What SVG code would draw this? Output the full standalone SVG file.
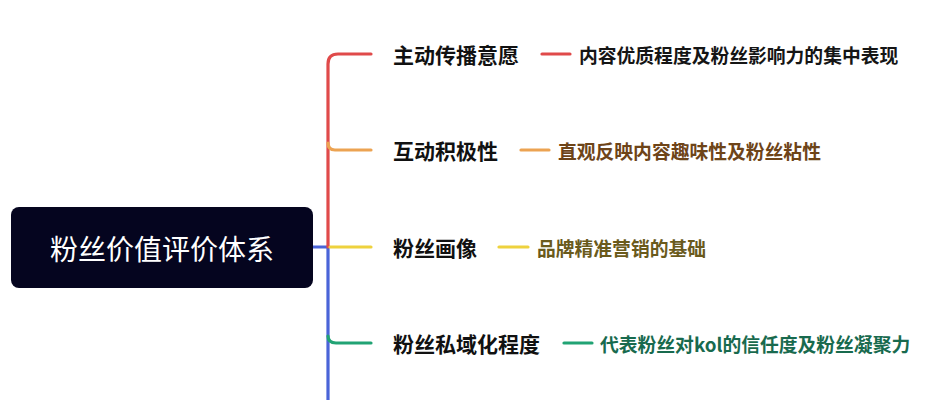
<svg xmlns="http://www.w3.org/2000/svg" width="928" height="400" viewBox="0 0 928 400">
<style>
.t{font-family:"Noto Sans CJK SC","Noto Sans",sans-serif;font-weight:700;font-size:21px;fill:#111111;dominant-baseline:central}
.d{font-family:"Noto Sans CJK SC","Noto Sans",sans-serif;font-weight:700;font-size:18.8px;dominant-baseline:central}
.c{fill:none;stroke-width:3.2;stroke-linecap:round}
</style>
<rect width="928" height="400" fill="#ffffff"/>
<g id="connectors">
<path class="c" stroke="#4a64d8" d="M313,247 L328,247 L328,400"/>
<path class="c" stroke="#e04a4a" d="M328,247 L328,64 Q328,54 338,54 L371,54"/>
<path class="c" stroke="#eca352" d="M328,143 Q328,150 335,150 L371,150"/>
<path class="c" stroke="#eed23e" d="M330,247 L371,247"/>
<path class="c" stroke="#21a374" d="M328,336 Q328,343 336,343 L371,343"/>
<path class="c" stroke="#e04a4a" d="M542,54 L570,54"/>
<path class="c" stroke="#eca352" d="M521,150 L549,150"/>
<path class="c" stroke="#eed23e" d="M499,247 L528,247"/>
<path class="c" stroke="#21a374" d="M564,343 L592,343"/>
</g>
<g id="root">
<rect x="11" y="207" width="302" height="81" rx="8" fill="#05051f"/>
<text x="162" y="248" text-anchor="middle" style="font-family:'Noto Sans CJK SC','Noto Sans',sans-serif;font-size:28px;fill:#ffffff;dominant-baseline:central">粉丝价值评价体系</text>
</g>
<g id="n1">
<text class="t" x="393" y="54">主动传播意愿</text>
<text class="d" x="579" y="54" fill="#151515">内容优质程度及粉丝影响力的集中表现</text>
</g>
<g id="n2">
<text class="t" x="393" y="150">互动积极性</text>
<text class="d" x="558" y="150" fill="#6e4418">直观反映内容趣味性及粉丝粘性</text>
</g>
<g id="n3">
<text class="t" x="393" y="247">粉丝画像</text>
<text class="d" x="537" y="247" fill="#6a5a1c">品牌精准营销的基础</text>
</g>
<g id="n4">
<text class="t" x="393" y="343">粉丝私域化程度</text>
<text class="d" x="600" y="343" fill="#186a4e">代表粉丝对kol的信任度及粉丝凝聚力</text>
</g>
</svg>
